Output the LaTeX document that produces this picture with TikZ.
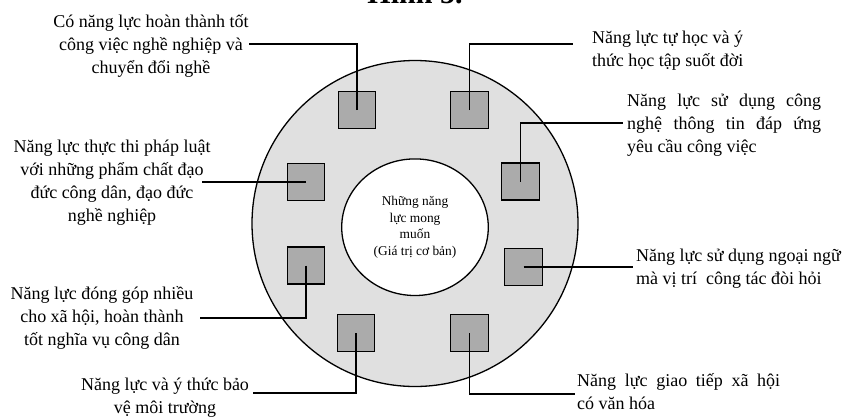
\documentclass[tikz,border=0pt]{standalone}
\usepackage{fontspec}
\setmainfont{Liberation Serif}
\usetikzlibrary{shapes.geometric}

\definecolor{ringgray}{gray}{0.88}
\definecolor{cellgray}{gray}{0.67}

\tikzset{
  ring/.style={circle, draw, fill=ringgray, line width=1.3pt, minimum size=326pt, inner sep=0pt},
  core/.style={ellipse, draw, fill=white, line width=1.3pt, minimum width=146.6pt, minimum height=136.6pt,
               inner sep=0pt, font={\fontsize{13.4}{16.5}\selectfont}},
  cell/.style={rectangle, draw, fill=cellgray, line width=1.3pt, minimum width=37.5pt, minimum height=37pt, inner sep=0pt},
  lead/.style={line width=1.1pt},
  lbl/.style={inner sep=0pt, font={\fontsize{18}{23}\selectfont}},
}

\begin{document}
\begin{tikzpicture}[x=1pt, y=-1pt]
  \useasboundingbox (0,0) rectangle (848,416);

  % heading, partly above the page edge
  \node[anchor=base, inner sep=0pt, font={\fontsize{30}{30}\selectfont\bfseries}] (title) at (415,3.5) {Hình 5.};

  % rings
  \node[ring] (outer) at (415,223.5) {};
  \node[core] (inner) at (415,227.2)
    {\begin{tabular}{@{}c@{}}Những năng\\ lực mong\\ muốn\\ (Giá trị cơ bản)\end{tabular}};

  % the eight squares around the ring
  \node[cell] (s1) at (357,110) {};
  \node[cell] (s2) at (469.5,110) {};
  \node[cell] (s3) at (520.5,181.5) {};
  \node[cell] (s4) at (306,182) {};
  \node[cell] (s5) at (306,265.5) {};
  \node[cell] (s6) at (356,333) {};
  \node[cell] (s7) at (469.5,333) {};
  \node[cell] (s8) at (523.5,267) {};

  % labels
  \node[lbl, anchor=base] (t1) at (151,27.3)
    {\begin{tabular}[t]{@{}c@{}}Có năng lực hoàn thành tốt\\ công việc nghề nghiệp và\\ chuyển đổi nghề\end{tabular}};
  \node[lbl, anchor=base west] (t2) at (592,43.3)
    {\begin{tabular}[t]{@{}l@{}}Năng lực tự học và ý\\ thức học tập suốt đời\end{tabular}};
  \node[lbl, anchor=base west] (t3) at (627,106)
    {\begin{tabular}[t]{@{}l@{}}\makebox[194pt][s]{Năng lực sử dụng công}\\
      \makebox[194pt][s]{nghệ thông tin đáp ứng}\\ yêu cầu công việc\end{tabular}};
  \node[lbl, anchor=base] (t4) at (112,152.3)
    {\begin{tabular}[t]{@{}c@{}}Năng lực thực thi pháp luật\\ với những phẩm chất đạo\\ đức công dân, đạo đức\\ nghề nghiệp\end{tabular}};
  \node[lbl, anchor=base] (t5) at (102,299)
    {\begin{tabular}[t]{@{}c@{}}Năng lực đóng góp nhiều\\ cho xã hội, hoàn thành\\ tốt nghĩa vụ công dân\end{tabular}};
  \node[lbl, anchor=base] (t6) at (165,390)
    {\begin{tabular}[t]{@{}c@{}}Năng lực và ý thức bảo\\ vệ môi trường\end{tabular}};
  \node[lbl, anchor=base west] (t7) at (577,386)
    {\begin{tabular}[t]{@{}l@{}}\makebox[203pt][s]{Năng lực giao tiếp xã hội}\\ có văn hóa\end{tabular}};
  \node[lbl, anchor=base west] (t8) at (636,261.5)
    {\begin{tabular}[t]{@{}l@{}}Năng lực sử dụng ngoại ngữ\\ mà vị trí~ công tác đòi hỏi\end{tabular}};

  % free ends of the leader lines, beside each label
  \coordinate (c1) at (249,44);
  \coordinate (c2) at (573,44);
  \coordinate (c3) at (623,123);
  \coordinate (c4) at (202,182);
  \coordinate (c5) at (200,318);
  \coordinate (c6) at (253,393);
  \coordinate (c7) at (575,394);
  \coordinate (c8) at (633,267);

  % leader lines from the square centres
  \draw[lead] (s1.center) |- (c1);
  \draw[lead] (s2.center) |- (c2);
  \draw[lead] (s3.center) |- (c3);
  \draw[lead] (s4.center) -- (c4);
  \draw[lead] (s5.center) |- (c5);
  \draw[lead] (s6.center) |- (c6);
  \draw[lead] (s7.center) |- (c7);
  \draw[lead] (s8.center) -- (c8);
\end{tikzpicture}
\end{document}
